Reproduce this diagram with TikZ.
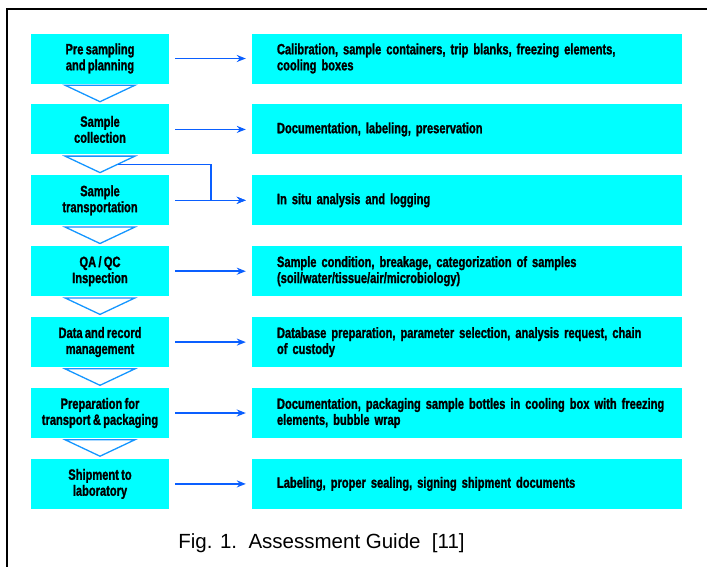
\documentclass[tikz,border=0pt]{standalone}
\usepackage{fontspec}
\setmainfont{Liberation Sans}
\newfontfamily\boxfont{Liberation Sans}[FakeStretch=0.74,FakeBold=1.3,WordSpace=0.75]
\usetikzlibrary{calc,arrows.meta}
\definecolor{boxcyan}{RGB}{0,255,255}
\definecolor{arrblue}{RGB}{10,95,255}
\definecolor{chevblue}{RGB}{20,150,255}
\tikzset{
  leftbox/.style={fill=boxcyan, draw=none, minimum width=138pt, minimum height=50pt, inner sep=0pt, align=center,
    font=\boxfont\bfseries\fontsize{15}{16}\selectfont},
  rightbox/.style={fill=boxcyan, draw=none, text width=380pt, inner xsep=25pt, inner ysep=0pt, minimum height=50pt, align=left,
    font=\boxfont\bfseries\fontsize{15}{16}\selectfont},
  arr/.style={draw=arrblue, line width=1.5pt, -{Stealth[length=9pt,width=7pt]}},
  chev/.style={draw=chevblue, line width=1.3pt, line join=miter},
}
\begin{document}
\begin{tikzpicture}[x=1pt,y=-1pt]
\useasboundingbox (0,0) rectangle (707,566);
\draw[line width=2pt] (7,570) -- (7,9) -- (712,9);

\foreach \i/\lt/\rt in {
  1/{Pre sampling\\and planning}/{\mbox{Calibration, sample containers, trip blanks, freezing elements,}\\cooling boxes},
  2/{Sample\\collection}/{Documentation, labeling, preservation},
  3/{Sample\\transportation}/{In situ analysis and logging},
  4/{QA / QC\\Inspection}/{Sample condition, breakage, categorization of samples\\(soil/water/tissue/air/microbiology)},
  5/{Data and record\\management}/{\mbox{Database preparation, parameter selection, analysis request, chain}\\of custody},
  6/{Preparation for\\transport \& packaging}/{\mbox{Documentation, packaging sample bottles in cooling box with freezing}\\elements, bubble wrap},
  7/{Shipment to\\laboratory}/{Labeling, proper sealing, signing shipment documents}} {
  \node[leftbox] (L\i) at (100, {58.5+70.9*(\i-1)}) {\lt};
  \node[rightbox] (R\i) at (467, {58.5+70.9*(\i-1)}) {\rt};
}

\foreach \i in {1,...,7} {
  \draw[arr] ([xshift=6pt]L\i.east) -- ([xshift=-6pt]R\i.west);
}

\foreach \i [evaluate=\i as \j using int(\i+1)] in {1,...,6} {
  \draw[chev] ([xshift=-35pt,yshift=-1.5pt]L\i.south) -- ([yshift=2.5pt]L\j.north)
    -- ([xshift=35pt,yshift=-1.5pt]L\i.south) -- cycle;
}

\coordinate (c2) at ($([xshift=35pt,yshift=-1.5pt]L2.south)!0.5!([yshift=2.5pt]L3.north)$);
\coordinate (t3) at (211,0);
\draw[arr] (c2) -- (c2 -| t3) |- ([xshift=-6pt]R3.west);

\node[font=\fontsize{20.5}{24}\selectfont, anchor=base] (cap) at (321.5,548) {Fig. 1.\ \ Assessment Guide\ \ [11]};
\end{tikzpicture}
\end{document}
